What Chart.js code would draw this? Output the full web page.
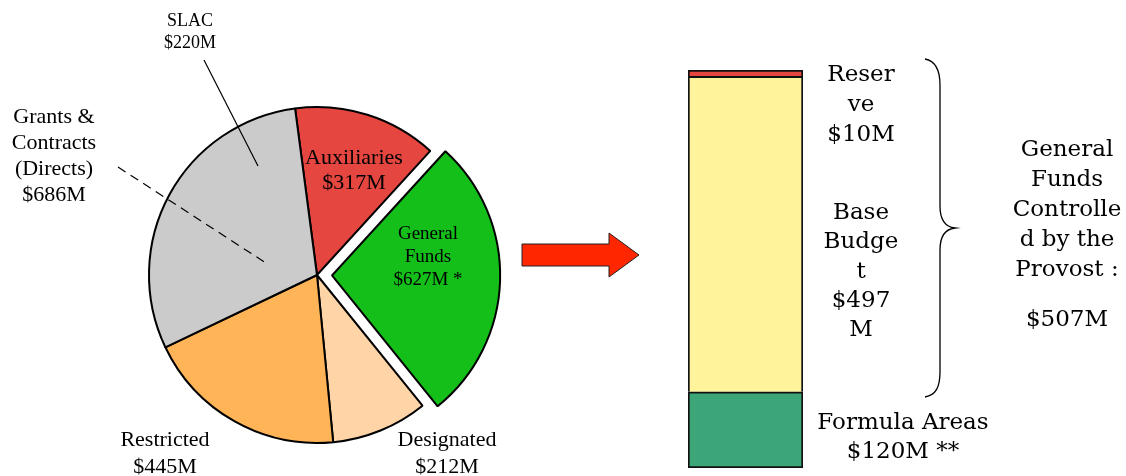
<!DOCTYPE html>
<html>
<head>
<meta charset="utf-8">
<script src="https://cdn.jsdelivr.net/npm/chart.js@4.4.1/dist/chart.umd.min.js"></script>
<style>
  html, body { margin: 0; padding: 0; background: #fff; }
  #wrap { position: relative; width: 1126px; height: 476px; overflow: hidden; }
  canvas { position: absolute; top: 0; }
  #pie { left: 0; }
  #bar { left: 660px; }
</style>
</head>
<body>
<div id="wrap">
  <canvas id="pie" width="660" height="476"></canvas>
  <canvas id="bar" width="466" height="476"></canvas>
</div>
<script>
// Operating budget by source of funds ($M)
const fundSources = ['Auxiliaries', 'General Funds', 'Designated', 'Restricted', 'Grants & Contracts (Directs)'];
const fundValues = [317, 627, 212, 445, 686];
const fundColors = ['#E5463F', '#14BF1A', '#FFD5A8', '#FFB557', '#CBCBCB'];
const slacValue = 220;

// How the General Funds are split
const gfParts = ['Formula Areas', 'Base Budget', 'Reserve'];
const gfValues = [120, 497, 10];
const gfColors = ['#3DA678', '#FFF39B', '#E5463F'];

const money = v => '$' + v + 'M';
const timesFont = '"Liberation Serif", "Times New Roman", serif';
const bookFont = '"DejaVu Serif", "Liberation Serif", serif';

function drawLines(ctx, rows, x, y, lineHeight, font) {
  ctx.save();
  ctx.font = font;
  ctx.fillStyle = '#000';
  ctx.textAlign = 'center';
  ctx.textBaseline = 'middle';
  rows.forEach((t, i) => ctx.fillText(t, x, y + i * lineHeight));
  ctx.restore();
}

function line(ctx, x1, y1, x2, y2, dash) {
  ctx.save();
  ctx.strokeStyle = '#000';
  ctx.lineWidth = 1.2;
  ctx.setLineDash(dash || []);
  ctx.beginPath();
  ctx.moveTo(x1, y1);
  ctx.lineTo(x2, y2);
  ctx.stroke();
  ctx.restore();
}

// Labels, leader lines and the arrow for the pie
const pieAnnotations = {
  id: 'pieAnnotations',
  afterDraw(chart) {
    const ctx = chart.ctx;
    const v = chart.data.datasets[0].data;
    drawLines(ctx, ['Auxiliaries', money(v[0])], 354, 158, 25, '22px ' + timesFont);
    drawLines(ctx, ['General', 'Funds', money(v[1]) + ' *'], 428, 234, 23, '19px ' + timesFont);
    drawLines(ctx, ['Designated', money(v[2])], 447, 440, 27, '22px ' + timesFont);
    drawLines(ctx, ['Restricted', money(v[3])], 165, 440, 27, '22px ' + timesFont);
    drawLines(ctx, ['Grants &', 'Contracts', '(Directs)', money(v[4])], 54, 117, 26, '22px ' + timesFont);
    drawLines(ctx, ['SLAC', money(slacValue)], 190, 21, 22, '18px ' + timesFont);

    line(ctx, 204, 60, 258, 166);
    line(ctx, 118, 167, 269, 265, [9, 6]);

    // arrow pointing to the General Funds breakdown
    ctx.save();
    ctx.beginPath();
    ctx.moveTo(522, 244);
    ctx.lineTo(609, 244);
    ctx.lineTo(609, 233);
    ctx.lineTo(639, 255);
    ctx.lineTo(609, 277);
    ctx.lineTo(609, 266);
    ctx.lineTo(522, 266);
    ctx.closePath();
    ctx.fillStyle = '#FF2600';
    ctx.fill();
    ctx.strokeStyle = '#222';
    ctx.lineWidth = 1;
    ctx.stroke();
    ctx.restore();
  }
};

new Chart(document.getElementById('pie'), {
  type: 'pie',
  data: {
    labels: fundSources,
    datasets: [{
      data: fundValues,
      backgroundColor: fundColors,
      borderColor: '#000',
      borderWidth: 2,
      offset: [0, 60, 0, 0, 0]
    }]
  },
  options: {
    responsive: false,
    animation: false,
    rotation: -7.5,
    radius: 168,
    layout: { padding: { left: 0, right: 26, top: 74, bottom: 0 } },
    plugins: { legend: { display: false }, tooltip: { enabled: false } }
  },
  plugins: [pieAnnotations]
});

// Labels and brace for the General Funds bar
const barAnnotations = {
  id: 'barAnnotations',
  afterDraw(chart) {
    const ctx = chart.ctx;
    const f = '23px ' + bookFont;
    const v = chart.data.datasets.map(d => d.data[0]);
    drawLines(ctx, ['Reser', 've', money(v[2])], 201, 75, 30, f);
    drawLines(ctx, ['Base', 'Budge', 't', '$' + v[1], 'M'], 201, 213, 29.3, f);
    drawLines(ctx, ['Formula Areas', money(v[0]) + ' **'], 243, 423, 29, f);
    drawLines(ctx, ['General', 'Funds', 'Controlle', 'd by the', 'Provost :'], 407, 150, 30, f);
    drawLines(ctx, [money(v[1] + v[2])], 407, 320, 30, f);

    // curly brace spanning Reserve and Base Budget
    ctx.save();
    ctx.strokeStyle = '#000';
    ctx.lineWidth = 1.3;
    ctx.beginPath();
    ctx.moveTo(265, 59);
    ctx.bezierCurveTo(276, 61, 280, 70, 280, 85);
    ctx.lineTo(280, 206);
    ctx.bezierCurveTo(280, 220, 286, 227, 295, 228);
    ctx.bezierCurveTo(286, 229, 280, 236, 280, 250);
    ctx.lineTo(280, 372);
    ctx.bezierCurveTo(280, 387, 276, 395, 265, 397);
    ctx.stroke();
    ctx.restore();
  }
};

new Chart(document.getElementById('bar'), {
  type: 'bar',
  data: {
    labels: ['General Funds'],
    datasets: gfParts.map((name, i) => ({
      label: name,
      data: [gfValues[i]],
      backgroundColor: gfColors[i],
      borderColor: '#111',
      borderWidth: 2,
      borderSkipped: i === 0 ? false : 'start',
      barPercentage: 1,
      categoryPercentage: 1
    }))
  },
  options: {
    responsive: false,
    animation: false,
    layout: { padding: { left: 28, right: 323, top: 70, bottom: 8 } },
    scales: {
      x: { stacked: true, display: false },
      y: { stacked: true, display: false, min: 0, max: gfValues.reduce((a, b) => a + b, 0) }
    },
    plugins: { legend: { display: false }, tooltip: { enabled: false } }
  },
  plugins: [barAnnotations]
});
</script>
</body>
</html>
